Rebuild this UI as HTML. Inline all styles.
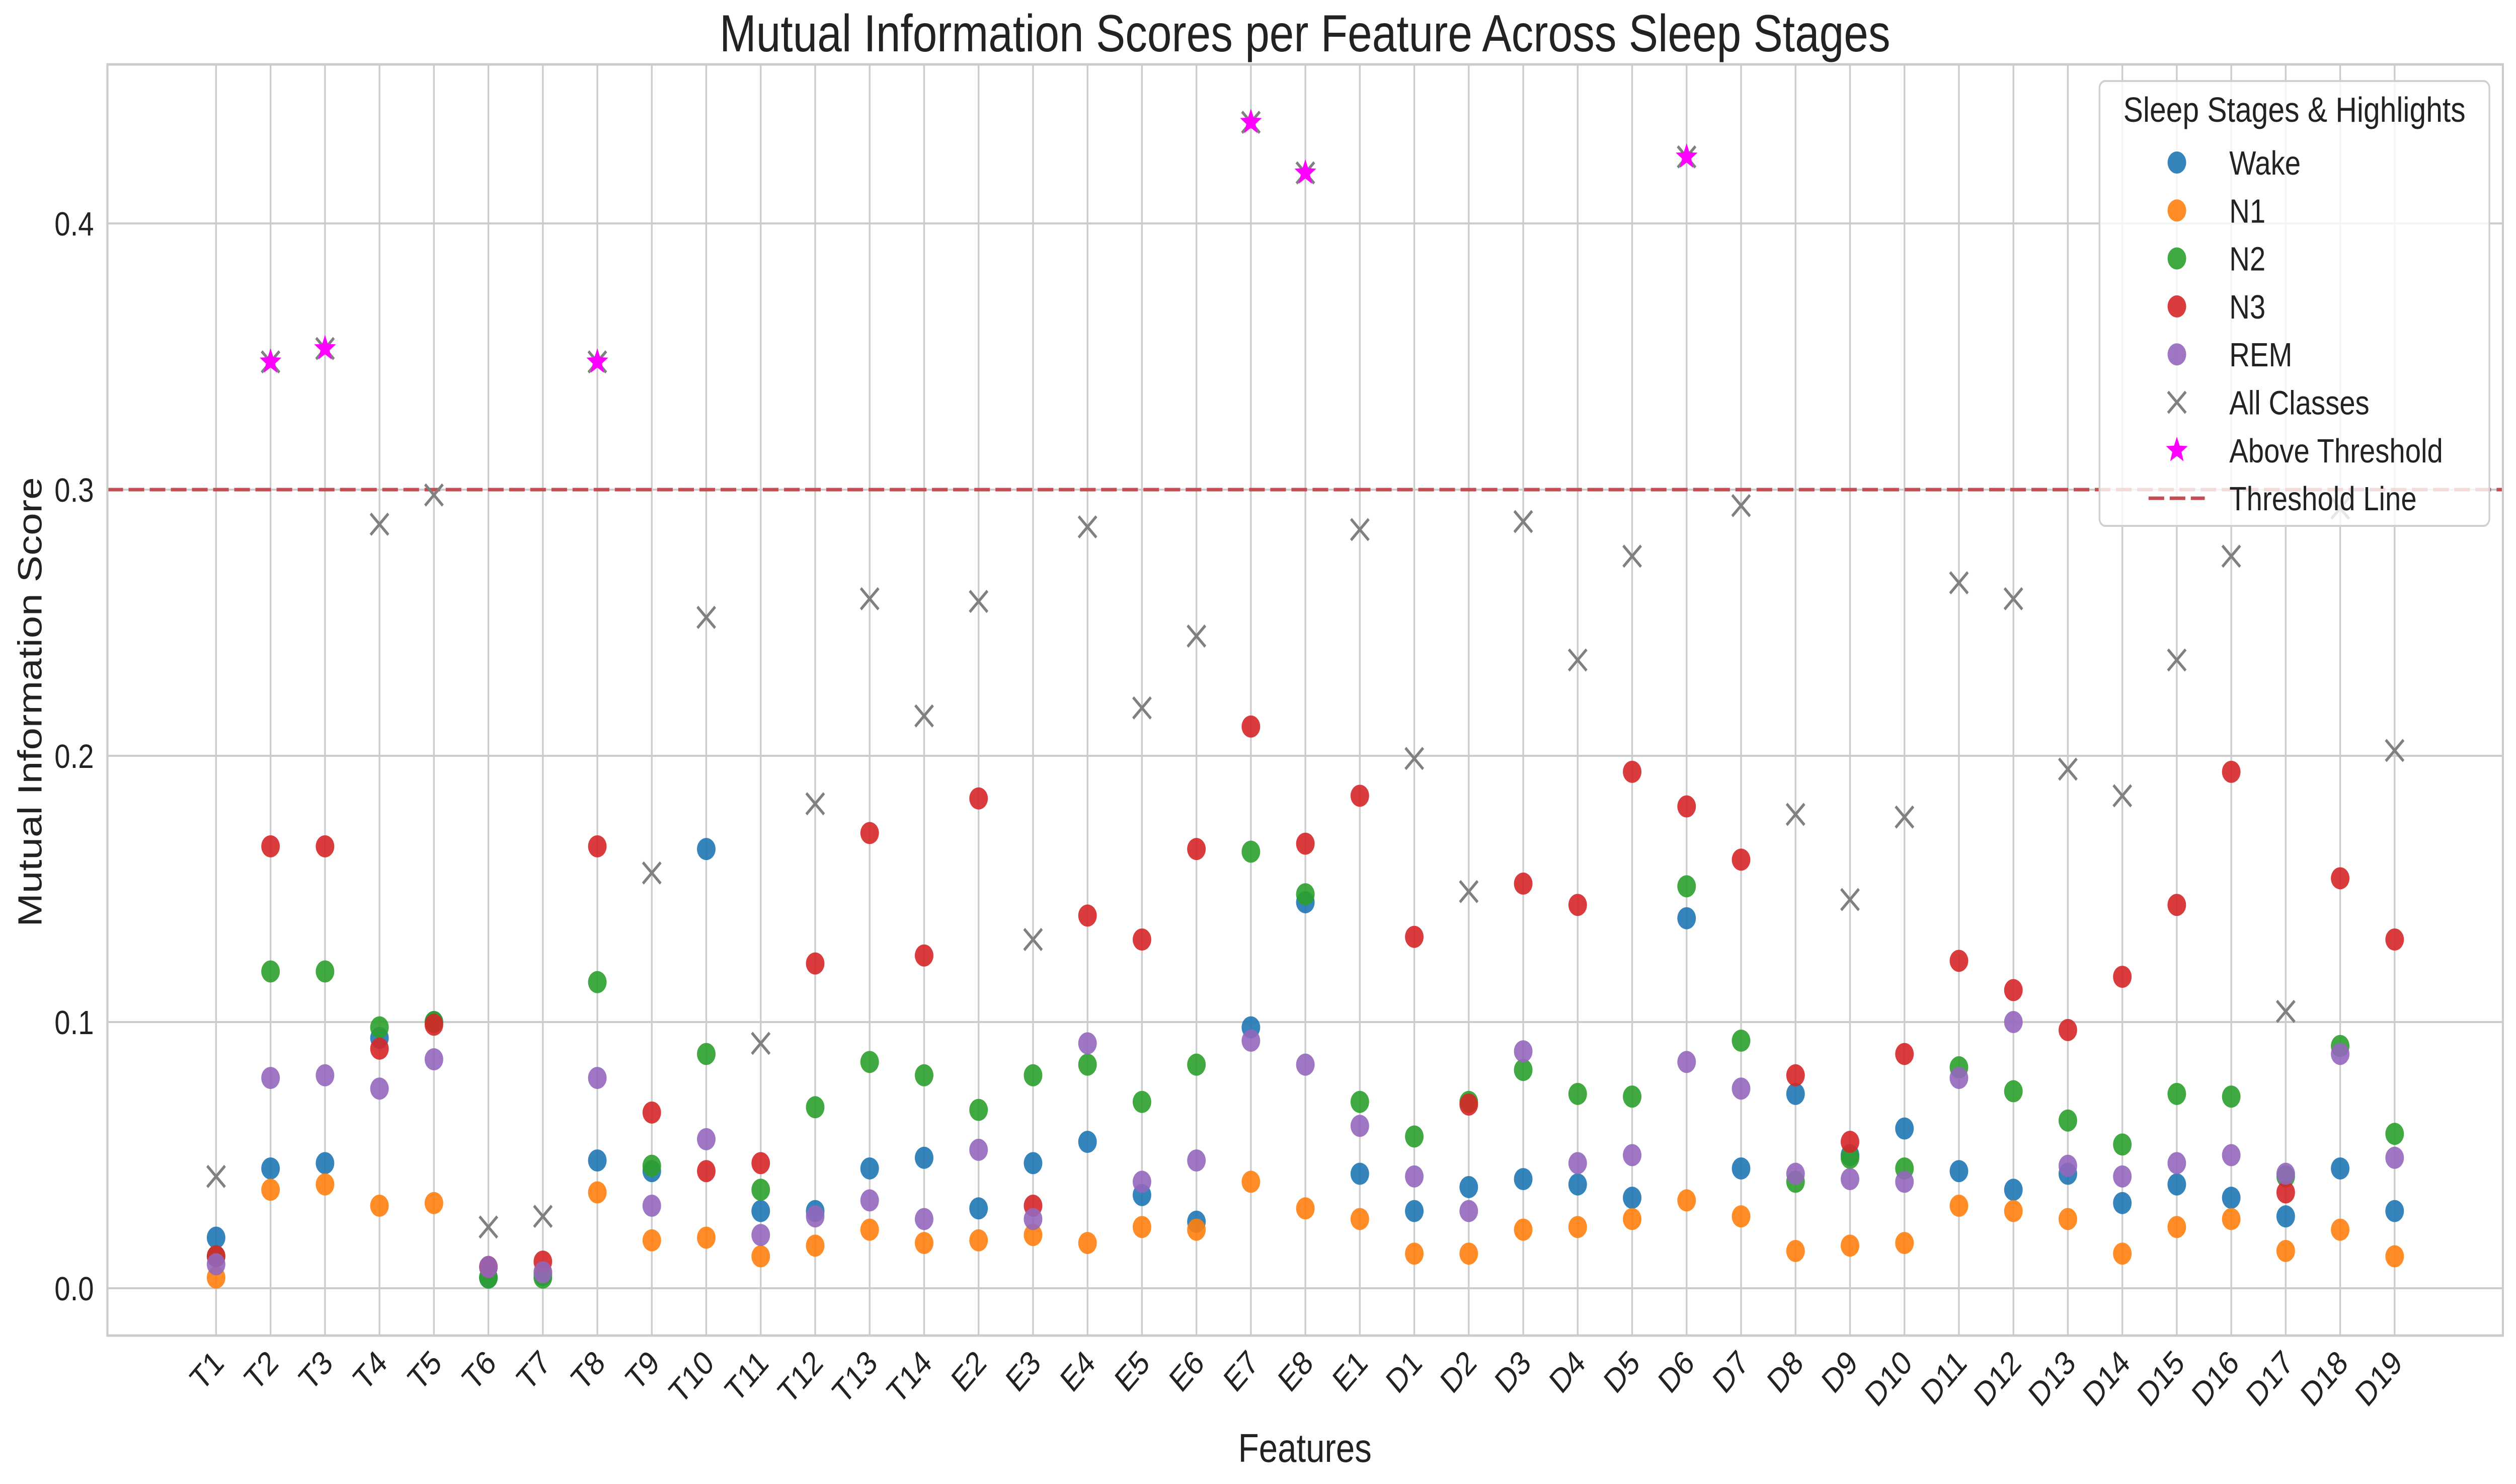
<!DOCTYPE html>
<html><head><meta charset="utf-8"><style>
html,body{margin:0;padding:0;background:#fff;width:100%;height:100%;overflow:hidden;}
svg{display:block;position:absolute;left:0;top:0;width:100vw;height:100vh;font-family:"Liberation Sans",Arial,sans-serif;}
</style></head><body>
<svg id="chart" viewBox="0 0 5950 2949" preserveAspectRatio="none" xmlns="http://www.w3.org/2000/svg">
<rect x="0" y="0" width="5950" height="2949" fill="#fff"/>
<g id="grid"></g>
<g id="marks"></g>
<rect x="254" y="128" width="5665" height="2526" fill="none" stroke="#cccccc" stroke-width="5"/>
<g id="ticks"></g>
<text x="3086" y="102" font-size="104" text-anchor="middle" fill="#222">Mutual Information Scores per Feature Across Sleep Stages</text>
<text x="3086" y="2905" font-size="80" text-anchor="middle" fill="#222">Features</text>
<text transform="translate(98,1395) rotate(-90)" font-size="80" text-anchor="middle" fill="#222">Mutual Information Score</text>
<g id="legend"></g>
</svg>
<script>
const categories = ["T1","T2","T3","T4","T5","T6","T7","T8","T9","T10","T11","T12","T13","T14","E2","E3","E4","E5","E6","E7","E8","E1","D1","D2","D3","D4","D5","D6","D7","D8","D9","D10","D11","D12","D13","D14","D15","D16","D17","D18","D19"];
const wake = [0.019,0.045,0.047,0.094,0.100,0.004,0.005,0.048,0.044,0.165,0.029,0.029,0.045,0.049,0.030,0.047,0.055,0.035,0.025,0.098,0.145,0.043,0.029,0.038,0.041,0.039,0.034,0.139,0.045,0.073,0.050,0.060,0.044,0.037,0.043,0.032,0.039,0.034,0.027,0.045,0.029];
const n1 = [0.004,0.037,0.039,0.031,0.032,0.008,0.006,0.036,0.018,0.019,0.012,0.016,0.022,0.017,0.018,0.020,0.017,0.023,0.022,0.040,0.030,0.026,0.013,0.013,0.022,0.023,0.026,0.033,0.027,0.014,0.016,0.017,0.031,0.029,0.026,0.013,0.023,0.026,0.014,0.022,0.012];
const n2 = [0.012,0.119,0.119,0.098,0.100,0.004,0.004,0.115,0.046,0.088,0.037,0.068,0.085,0.080,0.067,0.080,0.084,0.070,0.084,0.164,0.148,0.070,0.057,0.070,0.082,0.073,0.072,0.151,0.093,0.040,0.049,0.045,0.083,0.074,0.063,0.054,0.073,0.072,0.042,0.091,0.058];
const n3 = [0.012,0.166,0.166,0.090,0.099,0.008,0.010,0.166,0.066,0.044,0.047,0.122,0.171,0.125,0.184,0.031,0.140,0.131,0.165,0.211,0.167,0.185,0.132,0.069,0.152,0.144,0.194,0.181,0.161,0.080,0.055,0.088,0.123,0.112,0.097,0.117,0.144,0.194,0.036,0.154,0.131];
const rem = [0.009,0.079,0.080,0.075,0.086,0.008,0.006,0.079,0.031,0.056,0.020,0.027,0.033,0.026,0.052,0.026,0.092,0.040,0.048,0.093,0.084,0.061,0.042,0.029,0.089,0.047,0.050,0.085,0.075,0.043,0.041,0.040,0.079,0.100,0.046,0.042,0.047,0.050,0.043,0.088,0.049];
const allClasses = [0.042,0.348,0.353,0.287,0.298,0.023,0.027,0.348,0.156,0.252,0.092,0.182,0.259,0.215,0.258,0.131,0.286,0.218,0.245,0.438,0.419,0.285,0.199,0.149,0.288,0.236,0.275,0.425,0.294,0.178,0.146,0.177,0.265,0.259,0.195,0.185,0.236,0.275,0.104,0.293,0.202];
const yTicks = [0.0,0.1,0.2,0.3,0.4];
const yTickLabels = ["0.0","0.1","0.2","0.3","0.4"];
const threshold = 0.3;

const NS = "http://www.w3.org/2000/svg";
const X0 = 511, XSTEP = 128.8, Y0 = 2560, YPER = 5290;
const xPos = i => X0 + i * XSTEP;
const yPos = v => Y0 - v * YPER;
function mk(tag, attrs, parent) {
  const e = document.createElementNS(NS, tag);
  for (const k in attrs) e.setAttribute(k, attrs[k]);
  parent.appendChild(e);
  return e;
}
const grid = document.getElementById('grid');
const marks = document.getElementById('marks');
const ticks = document.getElementById('ticks');
const legend = document.getElementById('legend');

yTicks.forEach((t, i) => {
  const l = mk('line', {x1:254, x2:5919, y1:yPos(t), y2:yPos(t), stroke:'#cccccc', 'stroke-width':4}, grid);
  
  
  const tx = mk('text', {x:222, y:yPos(t)+24, 'font-size':67, 'text-anchor':'end', fill:'#222'}, ticks);
  tx.textContent = yTickLabels[i];
  
  
});
categories.forEach((c, i) => {
  const l = mk('line', {x1:xPos(i), x2:xPos(i), y1:128, y2:2654, stroke:'#cccccc', 'stroke-width':4}, grid);
  
  
  const tx = mk('text', {transform:`translate(${xPos(i)+22},2712) rotate(-45)`, 'font-size':67, 'text-anchor':'end', fill:'#222'}, ticks);
  tx.textContent = c;
  
  
});

const thr = mk('line', {x1:254, x2:5919, y1:yPos(threshold), y2:yPos(threshold), stroke:'#c44e52', 'stroke-width':7, 'stroke-dasharray':'37 13'}, marks);



function crossPath(cx, cy, s) {
  return `M${cx-s},${cy-s}L${cx+s},${cy+s}M${cx-s},${cy+s}L${cx+s},${cy-s}`;
}
function starPath(cx, cy, R) {
  const r = R * 0.42; let d = '';
  for (let k = 0; k < 10; k++) {
    const a = -Math.PI/2 + k*Math.PI/5, rr = k%2 ? r : R;
    d += (k ? 'L' : 'M') + (cx + rr*Math.cos(a)).toFixed(1) + ',' + (cy + rr*Math.sin(a)).toFixed(1);
  }
  return d + 'Z';
}
const series = [
  {name:'wake', vals:wake, color:'#1f77b4'},
  {name:'n1', vals:n1, color:'#ff7f0e'},
  {name:'n2', vals:n2, color:'#2ca02c'},
  {name:'n3', vals:n3, color:'#d62728'},
  {name:'rem', vals:rem, color:'#9467bd'}
];
series.forEach(s => {
  s.vals.forEach((v, i) => {
    const c = mk('circle', {cx:xPos(i), cy:yPos(v), r:22, fill:s.color, 'fill-opacity':0.9}, marks);
    
    
  });
});
allClasses.forEach((v, i) => {
  const p = mk('path', {d:crossPath(xPos(i), yPos(v), 21), stroke:'#808080', 'stroke-width':6, fill:'none'}, marks);
  
  
});
allClasses.forEach((v, i) => {
  if (v > threshold) {
    const p = mk('path', {d:starPath(xPos(i), yPos(v), 27), fill:'#ff00ff'}, marks);
    
    
  }
});

const box = mk('rect', {x:4965, y:161, width:922, height:884, rx:14, fill:'#ffffff', 'fill-opacity':0.8, stroke:'#d0d0d0', 'stroke-width':4}, legend);


const lt = mk('text', {x:5426, y:242, 'font-size':70, 'text-anchor':'middle', fill:'#222'}, legend);
lt.textContent = 'Sleep Stages & Highlights';


const entries = [['Wake','#1f77b4','c'],['N1','#ff7f0e','c'],['N2','#2ca02c','c'],['N3','#d62728','c'],['REM','#9467bd','c'],['All Classes','#808080','x'],['Above Threshold','#ff00ff','s'],['Threshold Line','#c44e52','l']];
entries.forEach((e, k) => {
  const cy = 323 + k * 95.3;
  const g = mk('g', {}, legend);
  
  
  if (e[2] === 'c') mk('circle', {cx:5148, cy:cy, r:22, fill:e[1], 'fill-opacity':0.9}, g);
  else if (e[2] === 'x') mk('path', {d:crossPath(5148, cy, 21), stroke:e[1], 'stroke-width':6, fill:'none'}, g);
  else if (e[2] === 's') mk('path', {d:starPath(5148, cy, 27), fill:e[1]}, g);
  else mk('line', {x1:5081, x2:5214, y1:cy, y2:cy, stroke:e[1], 'stroke-width':7, 'stroke-dasharray':'37 13'}, g);
  const t = mk('text', {x:5272, y:cy+24, 'font-size':67, fill:'#222'}, g);
  t.textContent = e[0];
});
</script>
</body></html>
